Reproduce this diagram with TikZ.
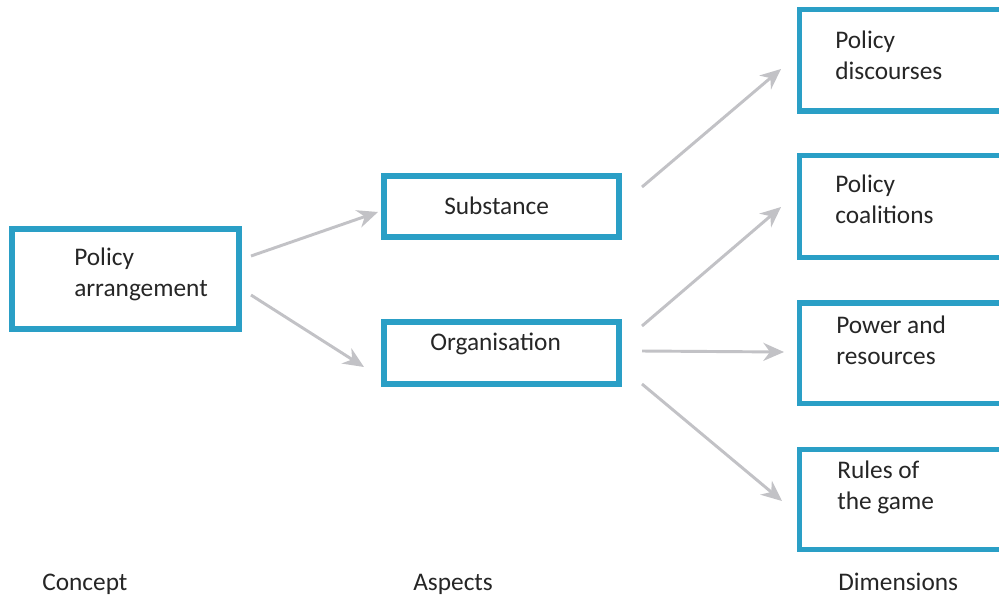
\documentclass[tikz,border=0pt]{standalone}
\usepackage{fontspec}
\setmainfont{Carlito}
\usetikzlibrary{arrows.meta}
\definecolor{boxblue}{HTML}{2A9FC6}
\definecolor{arrgray}{HTML}{C2C2C6}
\tikzset{
  box/.style={draw=boxblue, line width=3.8pt, rectangle, inner sep=0pt},
  txt/.style={anchor=base west, align=left, inner sep=0pt, font=\fontsize{19pt}{22.8pt}\selectfont, text=black!85},
  arr/.style={draw=arrgray, line width=2.2pt, -{Stealth[length=15.5pt,width=13.5pt,inset=5pt]}}
}
\begin{document}
\begin{tikzpicture}[x=0.75pt,y=-0.75pt]
\useasboundingbox (0,0) rectangle (999,597);
\fill[white] (0,0) rectangle (999,597);
% boxes
\node[box, minimum width=227*0.75pt, minimum height=100*0.75pt] (pa) at (125.5,279) {};
\node[box, minimum width=235*0.75pt, minimum height=61*0.75pt] (sub) at (501.5,206.5) {};
\node[box, minimum width=235*0.75pt, minimum height=62*0.75pt] (org) at (501.5,353) {};
\node[box, minimum width=220*0.75pt, minimum height=101.5*0.75pt] (dis) at (909.5,60.25) {};
\node[box, minimum width=220*0.75pt, minimum height=102*0.75pt] (coa) at (909.5,206.5) {};
\node[box, minimum width=220*0.75pt, minimum height=100.7*0.75pt] (pow) at (909.5,353.35) {};
\node[box, minimum width=220*0.75pt, minimum height=100*0.75pt] (rul) at (909.5,499.5) {};
% texts (base = last line)
\node[txt] (tpa) at (74,296) {Policy\\arrangement};
\node[txt] (tsub) at (444,214) {Substance};
\node[txt] (torg) at (430,350) {Organisation};
\node[txt] (tdis) at (835,79) {Policy\\discourses};
\node[txt] (tcoa) at (835,223) {Policy\\coalitions};
\node[txt] (tpow) at (836,364) {Power and\\resources};
\node[txt] (trul) at (837,509) {Rules of\\the game};
\node[txt] (lcon) at (42,590) {Concept};
\node[txt] (lasp) at (413,590) {Aspects};
\node[txt] (ldim) at (838,590) {Dimensions};
% connector ends
\coordinate (a1s) at (251,256); \coordinate (a1e) at (378,212);
\coordinate (a2s) at (251,295); \coordinate (a2e) at (364,367);
\coordinate (a3s) at (642,187); \coordinate (a3e) at (781,69);
\coordinate (a4s) at (642,326); \coordinate (a4e) at (781,207);
\coordinate (a5s) at (642,351); \coordinate (a5e) at (784,352);
\coordinate (a6s) at (642,384); \coordinate (a6e) at (782,501);
\draw[arr] (a1s) -- (a1e);
\draw[arr] (a2s) -- (a2e);
\draw[arr] (a3s) -- (a3e);
\draw[arr] (a4s) -- (a4e);
\draw[arr] (a5s) -- (a5e);
\draw[arr] (a6s) -- (a6e);
\end{tikzpicture}
\end{document}
